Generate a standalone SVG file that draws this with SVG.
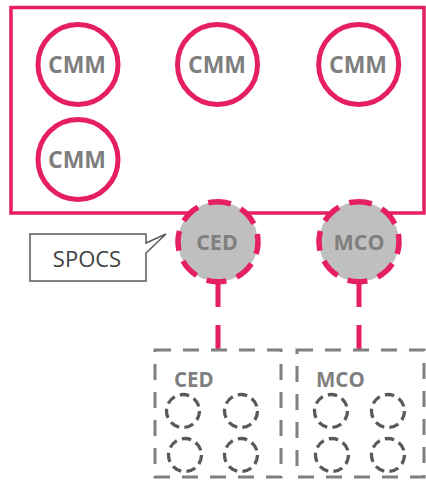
<svg xmlns="http://www.w3.org/2000/svg" width="426" height="482" viewBox="0 0 426 482">
<style>
.frame{fill:none;stroke:#e61e62;stroke-width:3.5}
.cmm{fill:#fff;stroke:#e61e62;stroke-width:5}
.spoc{fill:#bfbfbf;stroke:#e61e62;stroke-width:5.5;stroke-dasharray:20 11}
.lbl{font-family:"Open Sans","Liberation Sans",sans-serif;font-weight:bold;fill:#7f7f7f;text-anchor:middle}
.conn{stroke:#e61e62;stroke-width:5;stroke-dasharray:24 18;fill:none}
.box{fill:none;stroke:#7f7f7f;stroke-width:3;stroke-dasharray:16 12}
.sm{fill:none;stroke:#595959;stroke-width:3.3;stroke-dasharray:9.5 5.3}
.boxlbl{font-family:"Open Sans","Liberation Sans",sans-serif;font-weight:bold;fill:#7f7f7f;font-size:20.5px}
</style>
<rect id="frame" class="frame" x="11" y="7.5" width="413" height="205.5"/>
<g id="cmm1"><circle class="cmm" cx="78" cy="64.5" r="40"/><text class="lbl" x="77" y="72.5" font-size="23">CMM</text></g>
<g id="cmm2"><circle class="cmm" cx="217.5" cy="64.5" r="40"/><text class="lbl" x="217" y="72.5" font-size="23">CMM</text></g>
<g id="cmm3"><circle class="cmm" cx="358.7" cy="64.5" r="40"/><text class="lbl" x="358" y="72.5" font-size="23">CMM</text></g>
<g id="cmm4"><circle class="cmm" cx="78" cy="159.5" r="40"/><text class="lbl" x="77" y="167.5" font-size="23">CMM</text></g>
<g id="connectors">
<line class="conn" x1="218" y1="283" x2="218" y2="350"/>
<line class="conn" x1="359" y1="283" x2="359" y2="350"/>
</g>
<g id="ced"><circle class="spoc" cx="218" cy="241.7" r="40" transform="rotate(-100 218 241.7)"/><text class="lbl" x="217" y="250" font-size="21.5">CED</text></g>
<g id="mco"><circle class="spoc" cx="359" cy="241.7" r="40" transform="rotate(-100 359 241.7)"/><text class="lbl" x="359" y="250" font-size="21.5">MCO</text></g>
<g id="spocs">
<path d="M146,243 L146,234 L30,234 L30,281 L146,281 L146,253 L166,234 Z" fill="#fff" stroke="none"/>
<path d="M146,243 L146,234 L30,234 L30,281 L146,281 L146,253 L166,234 Z" fill="none" stroke="#595959" stroke-width="1.5" stroke-linejoin="miter"/>
<text x="87" y="267" font-family="'Open Sans','Liberation Sans',sans-serif" font-size="22" fill="#404040" text-anchor="middle">SPOCS</text>
</g>
<g id="ced-box">
<rect class="box" x="155" y="350" width="126" height="127"/>
<text class="boxlbl" x="174" y="387">CED</text>
<circle class="sm" cx="183" cy="411" r="16.5"/>
<circle class="sm" cx="241" cy="411" r="16.5"/>
<circle class="sm" cx="185" cy="455" r="16.5"/>
<circle class="sm" cx="241" cy="455" r="16.5"/>
</g>
<g id="mco-box">
<rect class="box" x="297" y="350" width="127" height="127"/>
<text class="boxlbl" x="316" y="387">MCO</text>
<circle class="sm" cx="331" cy="411" r="16.5"/>
<circle class="sm" cx="388" cy="411" r="16.5"/>
<circle class="sm" cx="332" cy="455" r="16.5"/>
<circle class="sm" cx="388" cy="455" r="16.5"/>
</g>
</svg>
